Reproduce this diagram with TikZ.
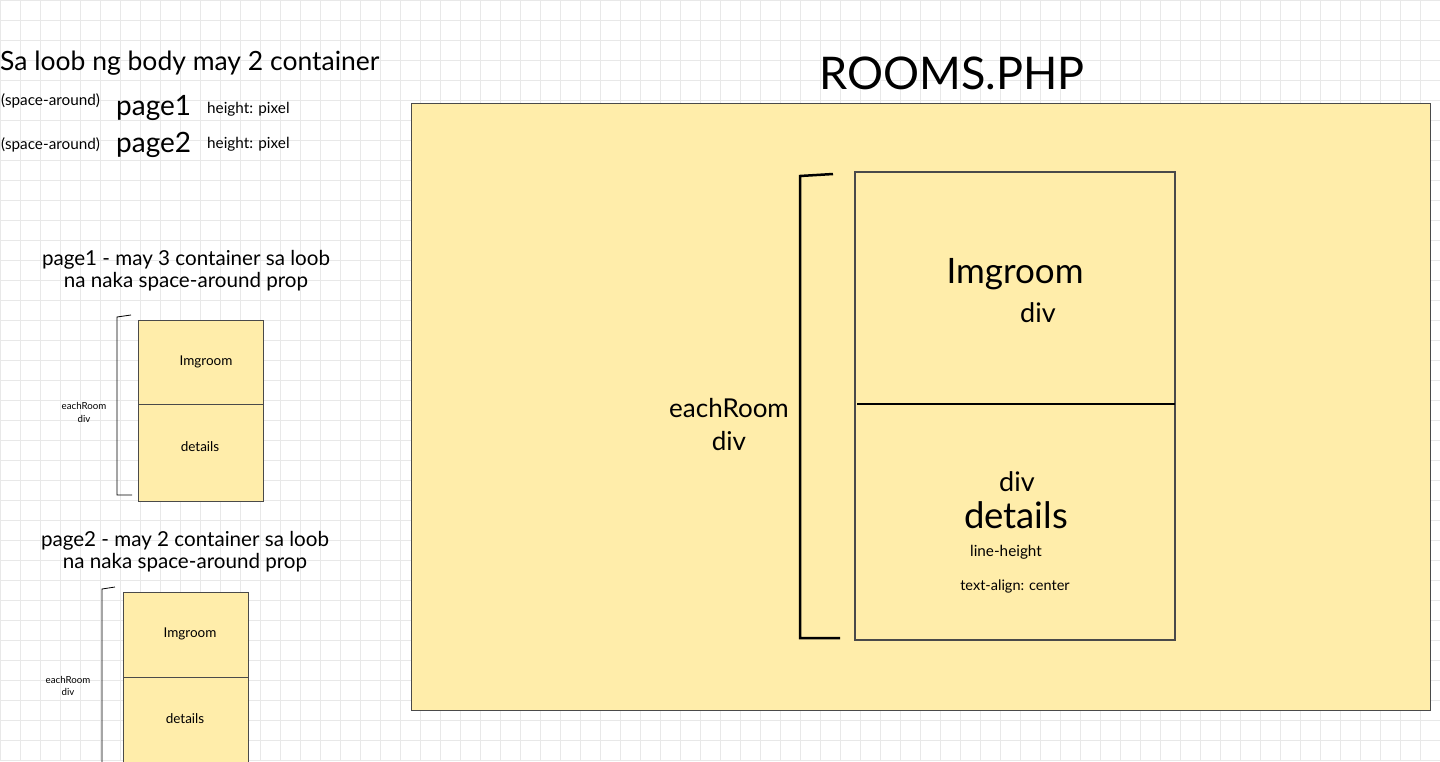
\documentclass[tikz,border=0pt]{standalone}
\usepackage{fontspec}
\setmainfont{Lato}
\usepackage{xcolor}
\definecolor{roomyellow}{HTML}{FFEDAA}
\definecolor{gridgray}{HTML}{E8E8E8}
\definecolor{boxline}{HTML}{4A4A4A}
\tikzset{
  roombox/.style={draw=boxline, fill=roomyellow, line width=1pt},
  lbl/.style={inner sep=0pt, font=#1},
  lbl/.default=\fontsize{15.3}{17}\selectfont
}
% bracket: top tick end, corner, corner, bottom tick end
\newcommand{\roombrace}[5]{\draw[line width=#5] #1 -- #2 -- #3 -- #4}

\begin{document}
\begin{tikzpicture}[x=1pt,y=-1pt]
	\useasboundingbox (0,0) rectangle (1440,761);
	\fill[white] (0,0) rectangle (1440,761);
	\foreach \gx in {0,20,...,1440}
		\draw[gridgray, line width=0.8pt] (\gx,0) -- (\gx,761);
	\foreach \gy in {0,20,...,760}
		\draw[gridgray, line width=0.8pt] (0,\gy) -- (1440,\gy);

	% left notes
	\node[lbl=\fontsize{26.5}{30}\selectfont, anchor=west] (title) at (0,63) {Sa loob ng body may 2 container};
	\node[lbl, anchor=west] (sa1) at (1,101) {(space-around)};
	\node[lbl=\fontsize{28}{30}\selectfont, anchor=west] (pg1) at (116,108) {page1};
	\node[lbl, anchor=west] (h1) at (207,109) {height: pixel};
	\node[lbl, anchor=west] (sa2) at (1,145) {(space-around)};
	\node[lbl=\fontsize{28}{30}\selectfont, anchor=west] (pg2) at (116,145) {page2};
	\node[lbl, anchor=west] (h2) at (207,144) {height: pixel};

	% page1
	\node[lbl=\fontsize{20.6}{22}\selectfont, align=center] (p1note) at (186,271) {page1 - may 3 container sa loob\\na naka space-around prop};
	\draw[roombox] (138,320) rectangle (263,501);
	\draw[boxline] (138,404) -- (263,404);
	\node[lbl=\fontsize{13.5}{15}\selectfont] (img1) at (206,362) {Imgroom};
	\node[lbl=\fontsize{13.5}{15}\selectfont] (det1) at (200,447) {details};
	\roombrace{(131,315)}{(117,317)}{(117,495)}{(132,495)}{0.8pt};
	\node[lbl=\fontsize{9.7}{13}\selectfont, align=center] (each1) at (84,412) {eachRoom\\div};

	% page2
	\node[lbl=\fontsize{20.6}{22}\selectfont, align=center] (p2note) at (185,552) {page2 - may 2 container sa loob\\na naka space-around prop};
	\draw[roombox] (123,592) rectangle (248,775);
	\draw[boxline] (123,677) -- (248,677);
	\node[lbl=\fontsize{13.5}{15}\selectfont] (img2) at (190,634) {Imgroom};
	\node[lbl=\fontsize{13.5}{15}\selectfont] (det2) at (185,719) {details};
	\roombrace{(115,587)}{(102,589)}{(102,775)}{(102,775)}{0.8pt};
	\node[lbl=\fontsize{9.7}{12}\selectfont, align=center] (each2) at (68,686) {eachRoom\\div};

	% rooms.php
	\node[lbl=\fontsize{45}{50}\selectfont] (rooms) at (952,73) {ROOMS.PHP};
	\draw[roombox] (411,103) rectangle (1430,710);
	\draw[boxline, line width=1.2pt] (855,172) rectangle (1175,640);
	\draw[black, line width=2pt] (857,404) -- (1175,404);
	\node[lbl=\fontsize{35}{38}\selectfont] (imgbig) at (1015,274) {Imgroom};
	\node[lbl=\fontsize{27}{30}\selectfont] (divimg) at (1038,313) {div};
	\node[lbl=\fontsize{27}{30}\selectfont] (divdet) at (1017,482) {div};
	\node[lbl=\fontsize{36.5}{40}\selectfont] (detbig) at (1016,515) {details};
	\node[lbl] (lh) at (1006,552) {line-height};
	\node[lbl=\fontsize{14.5}{16}\selectfont] (ta) at (1015,586) {text-align: center};
	\roombrace{(833,174)}{(800,176)}{(800,638)}{(840,638)}{2.5pt};
	\node[lbl=\fontsize{26}{33}\selectfont, align=center] (eachbig) at (729,425) {eachRoom\\div};
\end{tikzpicture}
\end{document}
